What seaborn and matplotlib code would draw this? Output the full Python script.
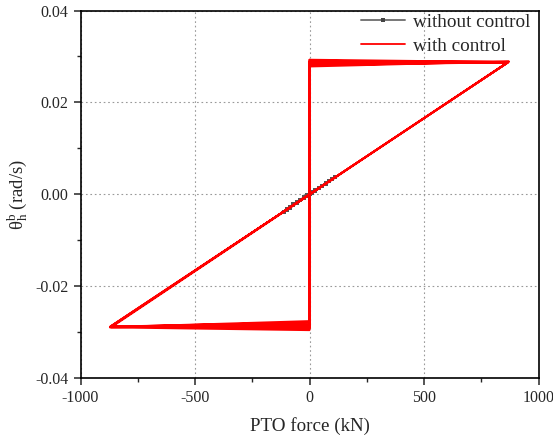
import numpy as np
import pandas as pd
import matplotlib
matplotlib.use('Agg')
import matplotlib.pyplot as plt
import seaborn as sns
from matplotlib.ticker import MultipleLocator

# with control: one loop per cycle, corner values
top_start = [0.0293, 0.0291, 0.0289, 0.0287, 0.0284, 0.0281, 0.0278]
peak_force = [868, 866, 870, 865, 869, 867, 871]
peak_theta = [0.0288, 0.0287, 0.0289, 0.0286, 0.0288, 0.0287, 0.0289]
low_force = [-870, -868, -872, -866, -869, -871, -867]
low_theta = [-0.0289, -0.0288, -0.0290, -0.0287, -0.0289, -0.0288, -0.0290]
bottom_end = [-0.0276, -0.0279, -0.0283, -0.0287, -0.0290, -0.0293, -0.0296]

# without control
nc_force = [-112, -100, -85, -70, -55, -40, -25, -10, 0, 10, 25, 40, 55, 70, 85, 100, 112,
            100, 85, 70, 55, 40, 25, 10, 0, -10, -25, -40, -55, -70, -85, -100, -112]
nc_theta = [-0.0038, -0.0034, -0.0029, -0.0024, -0.0018, -0.0013, -0.0008, -0.0003, 0.0000,
            0.0003, 0.0008, 0.0013, 0.0018, 0.0023, 0.0028, 0.0033, 0.0038,
            0.0034, 0.0029, 0.0024, 0.0019, 0.0014, 0.0009, 0.0004, 0.0001,
            -0.0002, -0.0007, -0.0012, -0.0017, -0.0022, -0.0027, -0.0032, -0.0038]

# build the closed path of the controlled case
fx, fy = [], []
for i in range(len(top_start)):
    fx += [0, peak_force[i], low_force[i], 0]
    fy += [top_start[i], peak_theta[i], low_theta[i], bottom_end[i]]
fx.append(0)
fy.append(top_start[0])

df_c = pd.DataFrame({'force': fx, 'theta': fy, 'step': range(len(fx))})
df_nc = pd.DataFrame({'force': nc_force, 'theta': nc_theta, 'step': range(len(nc_force))})

sns.set_style('ticks')
plt.rcParams['font.family'] = ['Liberation Serif', 'DejaVu Serif']
plt.rcParams['mathtext.fontset'] = 'custom'
plt.rcParams['mathtext.rm'] = 'Liberation Serif'
plt.rcParams['mathtext.it'] = 'Liberation Serif'
plt.rcParams['axes.unicode_minus'] = False

fig = plt.figure(figsize=(5.53, 4.38), dpi=100)
ax = fig.add_axes([0.1456, 0.137, 0.8282, 0.839])

sns.lineplot(data=df_nc, x='force', y='theta', sort=False, estimator=None, ax=ax,
             color='#555555', lw=1.4, marker='s', markersize=3.2, markeredgewidth=0,
             label='without control')
sns.lineplot(data=df_c, x='force', y='theta', sort=False, estimator=None, ax=ax,
             color='red', lw=1.3, label='with control')

ax.set_xlim(-1000, 1000)
ax.set_ylim(-0.04, 0.04)
ax.xaxis.set_major_locator(MultipleLocator(500))
ax.xaxis.set_minor_locator(MultipleLocator(250))
ax.yaxis.set_major_locator(MultipleLocator(0.02))
ax.yaxis.set_minor_locator(MultipleLocator(0.01))
ax.yaxis.set_major_formatter(matplotlib.ticker.FormatStrFormatter('%.2f'))
ax.tick_params(which='major', direction='out', length=5, width=1.1, labelsize=11.5)
ax.tick_params(which='minor', direction='out', length=3, width=1.0)
ax.grid(True, which='major', ls=(0, (1.5, 2.5)), color='#999999', lw=0.8)
for s in ax.spines.values():
    s.set_linewidth(1.2)
    s.set_color('black')

ax.set_xlabel('PTO force (kN)', fontsize=13.7, labelpad=8)
ax.set_ylabel(r'$\mathrm{\theta_h^b}$ (rad/s)', fontsize=13.5, labelpad=4)

leg = ax.legend(loc='upper right', bbox_to_anchor=(1.0, 1.015), frameon=False,
                fontsize=13.8, handlelength=2.3, borderaxespad=0.05,
                labelspacing=0.35, handletextpad=0.4)
leg.get_lines()[0].set_color('#777777')
leg.get_lines()[0].set_markerfacecolor('#444444')

fig.savefig('out.png', dpi=100)
